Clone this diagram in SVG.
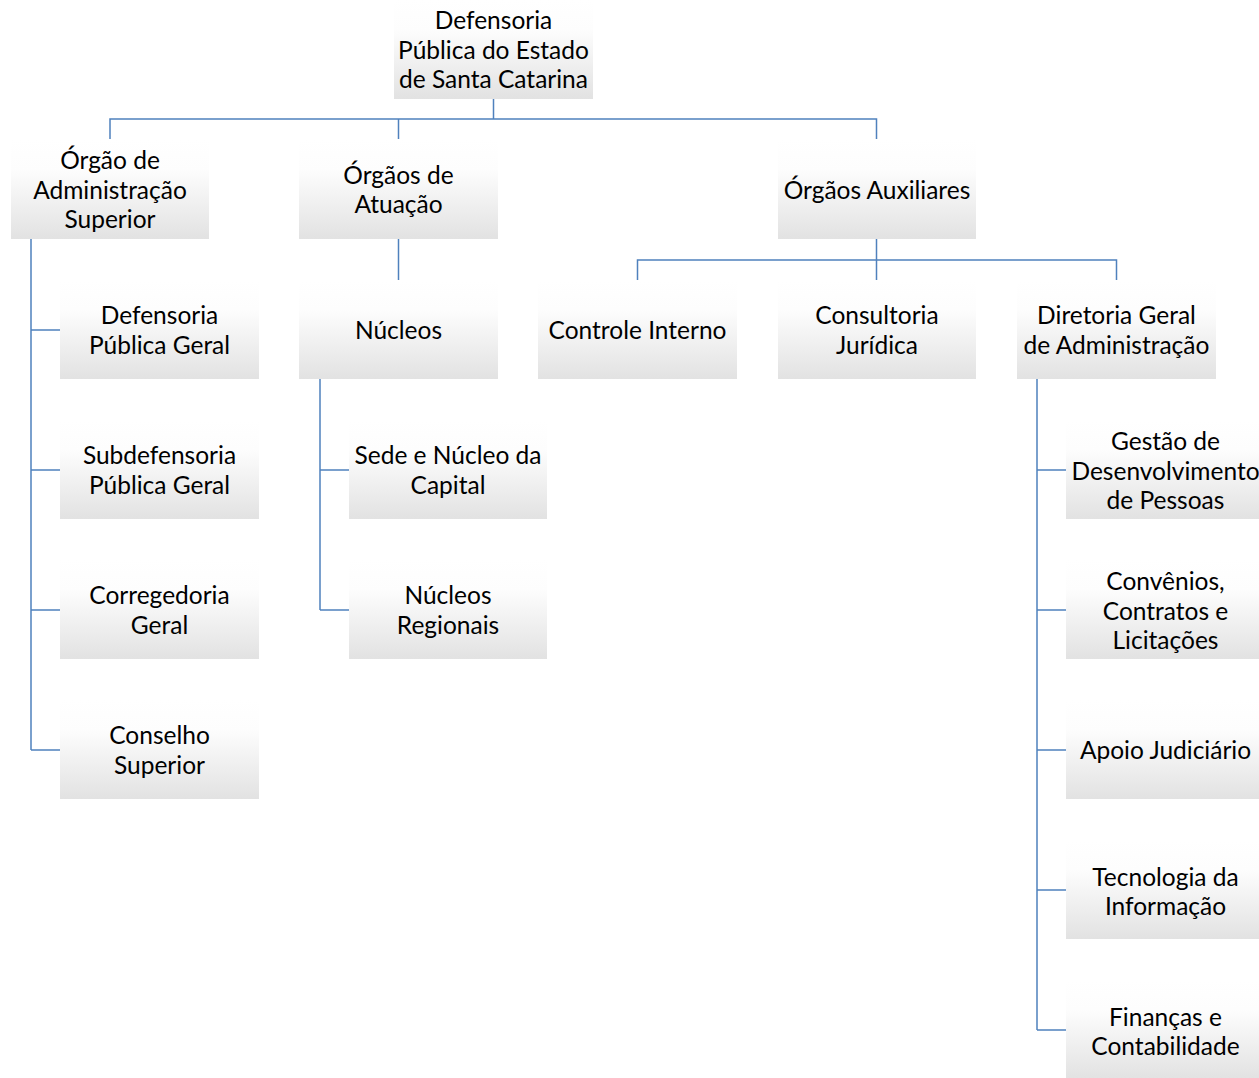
<svg xmlns="http://www.w3.org/2000/svg" width="1259" height="1078" viewBox="0 0 1259 1078">
<defs>
<linearGradient id="g" x1="0" y1="0" x2="0" y2="1">
<stop offset="0" stop-color="#ffffff"/>
<stop offset="0.3" stop-color="#fdfdfd"/>
<stop offset="1" stop-color="#e2e2e2"/>
</linearGradient>
</defs>
<style>
rect{fill:url(#g)}
text{font-family:Lato,"Open Sans","Liberation Sans",sans-serif;font-size:24.5px;fill:#000;text-anchor:middle}
.c path{fill:none;stroke:#4f81bd;stroke-width:1.5}
</style>
<rect width="1259" height="1078" style="fill:#fff"/>
<g class="c" id="connectors">
<path d="M493.5 99V119M110 139V119H876.5V139M398.5 119V139"/>
<path d="M31 239V750M31 330H60M31 470H60M31 610H60M31 750H60"/>
<path d="M398.5 239V280"/>
<path d="M320 379V610M320 470H349M320 610H349"/>
<path d="M876.5 239V260M637.5 280V260H1116.5V280M876.5 260V280"/>
<path d="M1037 379V1030M1037 470H1066M1037 610H1066M1037 750H1066M1037 890H1066M1037 1030H1066"/>
</g>
<g id="root"><rect x="394" y="0" width="199" height="99"/><text x="493.5"><tspan x="493.5" y="29">Defensoria</tspan><tspan x="493.5" y="58.5">Pública do Estado</tspan><tspan x="493.5" y="88">de Santa Catarina</tspan></text></g>
<g id="admsup"><rect x="11" y="140" width="198" height="99"/><text><tspan x="110" y="169">Órgão de</tspan><tspan x="110" y="198.5">Administração</tspan><tspan x="110" y="228">Superior</tspan></text></g>
<g id="atuacao"><rect x="299" y="140" width="199" height="99"/><text><tspan x="398.5" y="184">Órgãos de</tspan><tspan x="398.5" y="213">Atuação</tspan></text></g>
<g id="auxiliares"><rect x="778" y="140" width="198" height="99"/><text x="877" y="199">Órgãos Auxiliares</text></g>
<g id="dpg"><rect x="60" y="280" width="199" height="99"/><text><tspan x="159.5" y="324">Defensoria</tspan><tspan x="159.5" y="354">Pública Geral</tspan></text></g>
<g id="subdpg"><rect x="60" y="420" width="199" height="99"/><text><tspan x="159.5" y="464">Subdefensoria</tspan><tspan x="159.5" y="494">Pública Geral</tspan></text></g>
<g id="corregedoria"><rect x="60" y="560" width="199" height="99"/><text><tspan x="159.5" y="604">Corregedoria</tspan><tspan x="159.5" y="634">Geral</tspan></text></g>
<g id="conselho"><rect x="60" y="700" width="199" height="99"/><text><tspan x="159.5" y="744">Conselho</tspan><tspan x="159.5" y="774">Superior</tspan></text></g>
<g id="nucleos"><rect x="299" y="280" width="199" height="99"/><text x="398.5" y="339">Núcleos</text></g>
<g id="sede"><rect x="349" y="420" width="198" height="99"/><text><tspan x="448" y="464">Sede e Núcleo da</tspan><tspan x="448" y="494">Capital</tspan></text></g>
<g id="regionais"><rect x="349" y="560" width="198" height="99"/><text><tspan x="448" y="604">Núcleos</tspan><tspan x="448" y="634">Regionais</tspan></text></g>
<g id="controle"><rect x="538" y="280" width="199" height="99"/><text x="637.5" y="339">Controle Interno</text></g>
<g id="consultoria"><rect x="778" y="280" width="198" height="99"/><text><tspan x="877" y="324">Consultoria</tspan><tspan x="877" y="354">Jurídica</tspan></text></g>
<g id="diretoria"><rect x="1017" y="280" width="199" height="99"/><text><tspan x="1116.5" y="324">Diretoria Geral</tspan><tspan x="1116.5" y="354">de Administração</tspan></text></g>
<g id="gestao"><rect x="1066" y="420" width="199" height="99"/><text><tspan x="1165.5" y="450">Gestão de</tspan><tspan x="1165.5" y="479.5">Desenvolvimento</tspan><tspan x="1165.5" y="509">de Pessoas</tspan></text></g>
<g id="convenios"><rect x="1066" y="560" width="199" height="99"/><text><tspan x="1165.5" y="590">Convênios,</tspan><tspan x="1165.5" y="619.5">Contratos e</tspan><tspan x="1165.5" y="649">Licitações</tspan></text></g>
<g id="apoio"><rect x="1066" y="700" width="199" height="99"/><text x="1165.5" y="759">Apoio Judiciário</text></g>
<g id="ti"><rect x="1066" y="840" width="199" height="99"/><text><tspan x="1165.5" y="886">Tecnologia da</tspan><tspan x="1165.5" y="915">Informação</tspan></text></g>
<g id="financas"><rect x="1066" y="980" width="199" height="99"/><text><tspan x="1165.5" y="1026">Finanças e</tspan><tspan x="1165.5" y="1055">Contabilidade</tspan></text></g>
</svg>
